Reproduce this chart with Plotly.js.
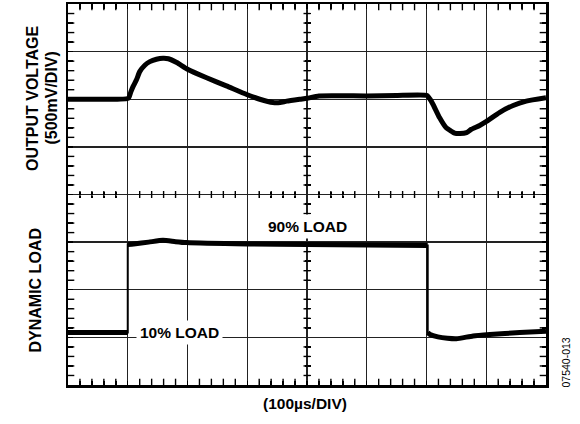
<!DOCTYPE html>
<html>
<head>
<meta charset="utf-8">
<script src="https://cdn.plot.ly/plotly-3.0.1.min.js"></script>
<style>html,body{margin:0;padding:0;background:#fff;}#chart{width:580px;height:424px;}</style>
</head>
<body>
<div id="chart"></div>
<script>
// Time in divisions (100 µs/DIV), level in divisions (8 divisions tall)
var voutX = [0, 0.5, 1.01, 1.05, 1.09, 1.15, 1.20, 1.29, 1.37, 1.48, 1.59, 1.68, 1.82, 2.0, 2.32, 2.65, 2.99, 3.21, 3.43, 3.55, 3.66, 3.88, 4.0, 4.2, 5.0, 5.5, 6.01, 6.06, 6.11, 6.22, 6.33, 6.39, 6.47, 6.56, 6.67, 6.75, 6.89, 7.01, 7.22, 7.45, 7.67, 8.0];
var voutY = [6.0, 6.0, 6.02, 6.15, 6.27, 6.42, 6.58, 6.72, 6.79, 6.84, 6.86, 6.85, 6.77, 6.63, 6.45, 6.28, 6.10, 6.0, 5.93, 5.93, 5.96, 6.0, 6.02, 6.07, 6.07, 6.08, 6.08, 6.0, 5.89, 5.61, 5.40, 5.35, 5.29, 5.28, 5.30, 5.37, 5.45, 5.54, 5.72, 5.87, 5.96, 6.03];

var loadX = [0, 0.5, 1.0, 1.0, 1.1, 1.35, 1.59, 1.8, 1.98, 3.0, 4.0, 5.0, 6.02, 6.02, 6.06, 6.19, 6.35, 6.5, 6.78, 7.06, 7.56, 8.0];
var loadY = [1.10, 1.10, 1.10, 2.95, 2.96, 3.0, 3.04, 3.01, 2.99, 2.96, 2.95, 2.94, 2.93, 1.10, 1.06, 1.01, 0.98, 0.97, 1.03, 1.06, 1.10, 1.13];

var xTitle = "(100µs/DIV)";
var yTitleTop = ["OUTPUT VOLTAGE", "(500mV/DIV)"];
var yTitleBottom = "DYNAMIC LOAD";
var labelHigh = "90% LOAD";
var labelLow = "10% LOAD";
var figId = "07540-013";

// graticule: 8 x 8 divisions, 5 minor subdivisions each
var NDIV = 8, NSUB = 5;

// thick segments: break at vertical edges (same x consecutive)
var segX = [], segY = [];
for (var i = 0; i < loadX.length; i++) {
  if (i > 0 && loadX[i] === loadX[i - 1]) { segX.push(null); segY.push(null); }
  segX.push(loadX[i]); segY.push(loadY[i]);
}

var minorPos = [];
for (var k = 1; k < NDIV * NSUB; k++) { if (k % NSUB !== 0) minorPos.push(k / NSUB); }
function tickTrace(xs, ys, sym, size) {
  return {x: xs, y: ys, mode: 'markers', hoverinfo: 'skip', cliponaxis: true,
    marker: {symbol: sym, size: size, color: '#000', line: {color: '#000', width: 1.4}}};
}
function constArr(v) { return minorPos.map(function () { return v; }); }
function dummy(xa, ya) {
  return {x: [0], y: [0], mode: 'markers', marker: {opacity: 0}, hoverinfo: 'skip', xaxis: xa, yaxis: ya};
}

var FONT = "Liberation Sans, Arial, sans-serif";

var traces = [
  tickTrace(minorPos, constArr(0), 'line-ns', 9),
  tickTrace(minorPos, constArr(NDIV), 'line-ns', 9),
  tickTrace(constArr(0), minorPos, 'line-ew', 9),
  tickTrace(constArr(NDIV), minorPos, 'line-ew', 9),
  tickTrace(minorPos, constArr(NDIV / 2), 'line-ns', 5),
  tickTrace(constArr(NDIV / 2), minorPos, 'line-ew', 5),
  {x: voutX, y: voutY, mode: 'lines', line: {color: '#000', width: 5, shape: 'spline', smoothing: 0.5}, hoverinfo: 'skip'},
  {x: loadX, y: loadY, mode: 'lines', line: {color: '#000', width: 2}, hoverinfo: 'skip'},
  {x: segX, y: segY, mode: 'lines', connectgaps: false, line: {color: '#000', width: 5, shape: 'spline', smoothing: 0.5}, hoverinfo: 'skip'},
  dummy('x3', 'y3'), dummy('x4', 'y4')
];

function minorTicks(dir, len) {
  return {dtick: 1 / NSUB, ticks: dir, ticklen: len, tickwidth: 1.4, tickcolor: '#000', showgrid: false};
}
var axBase = {range: [0, NDIV], dtick: 1, showticklabels: false, ticks: 'inside', ticklen: 4.5, tickwidth: 1.4, tickcolor: '#000',
  zeroline: false, fixedrange: true, showgrid: true, gridcolor: '#222', gridwidth: 1.4,
  showline: true, linecolor: '#000', linewidth: 2.5, mirror: 'ticks', minor: minorTicks('inside', 4.5)};
var centreBase = {range: [0, NDIV], dtick: 1, showticklabels: false, ticks: '', zeroline: false, fixedrange: true,
  showgrid: false, showline: false, anchor: 'free', position: 0.5};

var layout = {
  width: 580, height: 424,
  margin: {l: 68, r: 34, t: 4, b: 39},
  showlegend: false,
  xaxis: Object.assign({}, axBase),
  yaxis: Object.assign({}, axBase),
  xaxis3: Object.assign({}, centreBase, {overlaying: 'x', minor: minorTicks('outside', 2.5)}),
  yaxis3: Object.assign({}, centreBase, {overlaying: 'y', minor: minorTicks('outside', 2.5)}),
  xaxis4: Object.assign({}, centreBase, {overlaying: 'x', minor: minorTicks('inside', 2.5)}),
  yaxis4: Object.assign({}, centreBase, {overlaying: 'y', minor: minorTicks('inside', 2.5)}),
  annotations: [
    {xref: 'paper', yref: 'paper', x: (33 - 68) / 478, y: (385.5 - 98.5) / 381, text: '<b>' + yTitleTop[0] + '</b>', textangle: -90, showarrow: false, xanchor: 'center', yanchor: 'middle', font: {size: 16, family: FONT, color: '#000'}},
    {xref: 'paper', yref: 'paper', x: (51 - 68) / 478, y: (385.5 - 99) / 381, text: '<b>' + yTitleTop[1] + '</b>', textangle: -90, showarrow: false, xanchor: 'center', yanchor: 'middle', font: {size: 16, family: FONT, color: '#000'}},
    {xref: 'paper', yref: 'paper', x: (35 - 68) / 478, y: (385.5 - 291) / 381, text: '<b>' + yTitleBottom + '</b>', textangle: -90, showarrow: false, xanchor: 'center', yanchor: 'middle', font: {size: 16, family: FONT, color: '#000'}},
    {xref: 'paper', yref: 'paper', x: (305 - 68) / 478, y: (385.5 - 404) / 381, text: '<b>' + xTitle + '</b>', showarrow: false, xanchor: 'center', yanchor: 'middle', font: {size: 15.5, family: FONT, color: '#000'}},
    {xref: 'paper', yref: 'paper', x: (565 - 68) / 478, y: (385.5 - 363) / 381, text: figId, textangle: -90, showarrow: false, xanchor: 'center', yanchor: 'middle', font: {size: 10.5, family: FONT, color: '#000'}},
    {xref: 'x', yref: 'y', x: 4.0, y: 3.32, text: '<b>' + labelHigh + '</b>', showarrow: false, xanchor: 'center', yanchor: 'middle', bgcolor: '#fff', borderpad: 3, font: {size: 15.5, family: FONT, color: '#000'}},
    {xref: 'x', yref: 'y', x: 1.86, y: 1.11, text: '<b>' + labelLow + '</b>', showarrow: false, xanchor: 'center', yanchor: 'middle', bgcolor: '#fff', borderpad: 3, font: {size: 15.5, family: FONT, color: '#000'}}
  ]
};

Plotly.newPlot('chart', traces, layout, {staticPlot: true, displayModeBar: false});
</script>
</body>
</html>
